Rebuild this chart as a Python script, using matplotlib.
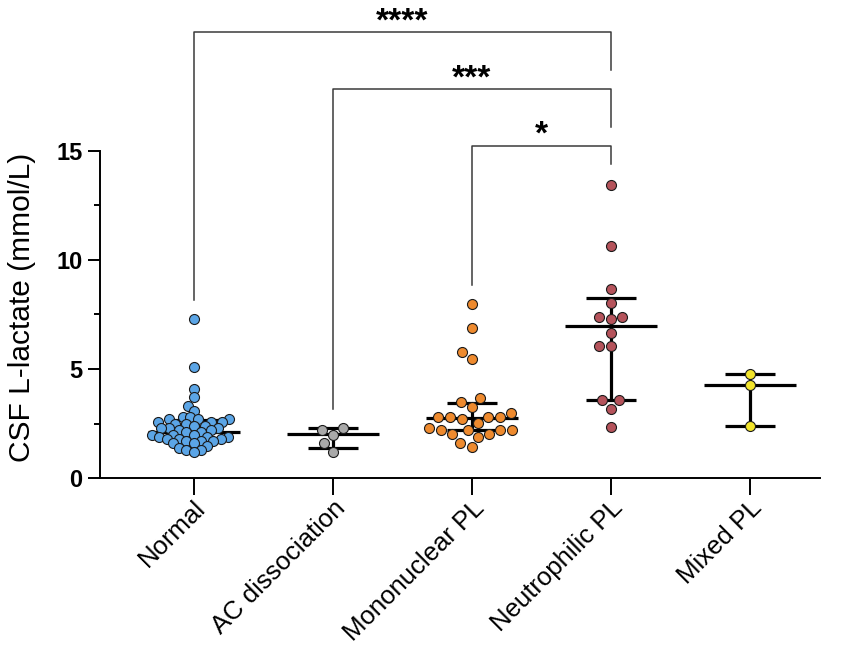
import numpy as np
import matplotlib
matplotlib.use("Agg")
import matplotlib.pyplot as plt

plt.rcParams['font.family'] = ['Liberation Sans', 'DejaVu Sans']

# ---------------- data ----------------
categories = ["Normal", "AC dissociation", "Mononuclear PL", "Neutrophilic PL", "Mixed PL"]

normal = [7.3, 5.1, 4.1, 3.7, 3.3, 3.1, 2.8, 2.8, 2.7, 2.7, 2.7, 2.6, 2.6, 2.6,
          2.5, 2.5, 2.4, 2.4, 2.3, 2.3, 2.3, 2.2, 2.2, 2.1, 2.1, 2.0, 2.0, 2.0,
          1.9, 1.9, 1.9, 1.8, 1.8, 1.8, 1.7, 1.7, 1.7, 1.6, 1.6, 1.5, 1.4, 1.3,
          1.3, 1.2]
ac_dissociation = [2.3, 2.2, 2.0, 1.6, 1.2]
mononuclear = [7.98, 6.87, 5.78, 5.48, 3.69, 3.49, 3.28, 3.0, 2.79, 2.7, 2.79,
               2.79, 2.79, 2.52, 2.21, 2.29, 1.9, 2.21, 2.21, 2.01, 2.01, 2.21,
               1.42, 1.6]
neutrophilic = [13.44, 10.64, 8.67, 8.04, 7.39, 7.28, 7.39, 6.67, 6.07, 6.07,
                3.59, 3.59, 3.19, 2.36]
mixed = [4.78, 4.27, 2.39]

medians = [2.13, 2.01, 2.78, 6.99, 4.27]
q1 = [1.75, 1.40, 2.21, 3.59, 2.39]
q3 = [2.65, 2.29, 3.43, 8.24, 4.78]

colors = ['#5ba5e6', '#a9a9a9', '#ee8a2e', '#b5535b', '#f3e52c']

comp_left = [0, 1, 2]
comp_right = [3, 3, 3]
comp_labels = ['****', '***', '*']
bracket_y = [20.42, 17.81, 15.23]
left_leg_bottom = [8.17, 3.16, 8.85]
right_leg_bottom = [18.7, 16.1, 14.4]

yticks = [0, 5, 10, 15]
yminor = [2.5, 7.5, 12.5]

groups = [normal, ac_dissociation, mononuclear, neutrophilic, mixed]

# ---------------- figure ----------------
W, H = 851, 648
fig = plt.figure(figsize=(W / 100, H / 100), dpi=100)
ax_left, ax_right = 100 / W, 820 / W
ax_bottom, ax_top = 1 - 478.3 / H, 1 - 150.7 / H
ax = fig.add_axes([ax_left, ax_bottom, ax_right - ax_left, ax_top - ax_bottom])
ax.set_xlim(-0.674, 4.506)
ax.set_ylim(0, 15)

# pixel scales from the axes transform
p0 = ax.transData.transform((0, 0))
p1 = ax.transData.transform((1, 1))
px_per_cat = p1[0] - p0[0]
px_per_unit = p1[1] - p0[1]


def swarm_offsets(ypix, d):
    order = np.argsort(ypix)
    placed = []
    offs = np.zeros(len(ypix))
    for i in order:
        y = ypix[i]
        cands = [0.0]
        for (px, py) in placed:
            dy = abs(py - y)
            if dy < d:
                dx = np.sqrt(d * d - dy * dy)
                cands += [px - dx, px + dx]
        cands = sorted(set(cands), key=lambda c: (round(abs(c), 6), c))
        for c in cands:
            if all((c - px) ** 2 + (y - py) ** 2 >= d * d - 1e-6 for px, py in placed):
                offs[i] = c
                break
        placed.append((offs[i], y))
    return offs


marker_d_px = 10.0
spacing_px = [7.6, 12.0, 12.0, 12.0, 10.5]
ms_pt = marker_d_px * 72 / fig.dpi

for i, vals in enumerate(groups):
    v = np.asarray(vals, dtype=float)
    offs = swarm_offsets(v * px_per_unit, spacing_px[i])
    xs = i + offs / px_per_cat
    ax.scatter(xs, v, s=ms_pt ** 2, facecolor=colors[i], edgecolor='#1a1a1a',
               linewidth=0.8, zorder=4)
    # median and interquartile range
    mw = 46 / px_per_cat
    qw = 25 / px_per_cat
    ax.plot([i - mw, i + mw], [medians[i], medians[i]], color='black', lw=2.3,
            solid_capstyle='butt', zorder=3)
    ax.plot([i - qw, i + qw], [q1[i], q1[i]], color='black', lw=2.3,
            solid_capstyle='butt', zorder=3)
    ax.plot([i - qw, i + qw], [q3[i], q3[i]], color='black', lw=2.3,
            solid_capstyle='butt', zorder=3)
    ax.plot([i, i], [q1[i], q3[i]], color='black', lw=2.3,
            solid_capstyle='butt', zorder=3)

# significance brackets
for l, r, lab, by, lb, rb in zip(comp_left, comp_right, comp_labels,
                                  bracket_y, left_leg_bottom, right_leg_bottom):
    ax.plot([l, l, r, r], [lb, by, by, rb], color='#3a3a3a', lw=1.1,
            clip_on=False, zorder=2)
    ax.text((l + r) / 2, by + 0.1, lab, ha='center', va='baseline',
            fontsize=24, fontweight='bold', clip_on=False)

# axes styling
for s in ['top', 'right']:
    ax.spines[s].set_visible(False)
ax.spines['left'].set_linewidth(1.4)
ax.spines['bottom'].set_linewidth(1.4)
ax.set_yticks(yticks)
ax.set_yticks(yminor, minor=True)
ax.set_yticklabels([str(t) for t in yticks], fontsize=17, fontweight='bold')
ax.tick_params(axis='y', which='major', length=8.6, width=1.4, pad=4)
ax.tick_params(axis='y', which='minor', length=4, width=1.4)
ax.set_xticks(range(len(categories)))
ax.set_xticklabels(categories, fontsize=18.5, rotation=45, ha='right',
                   va='top', rotation_mode='anchor')
ax.tick_params(axis='x', which='major', length=12, width=1.4, pad=0.5)

fig.text(22.5 / W, 1 - 307.5 / H, 'CSF L-lactate (mmol/L)', rotation=90,
         ha='center', va='center', fontsize=21.5)

fig.savefig('out.png', dpi=100)
